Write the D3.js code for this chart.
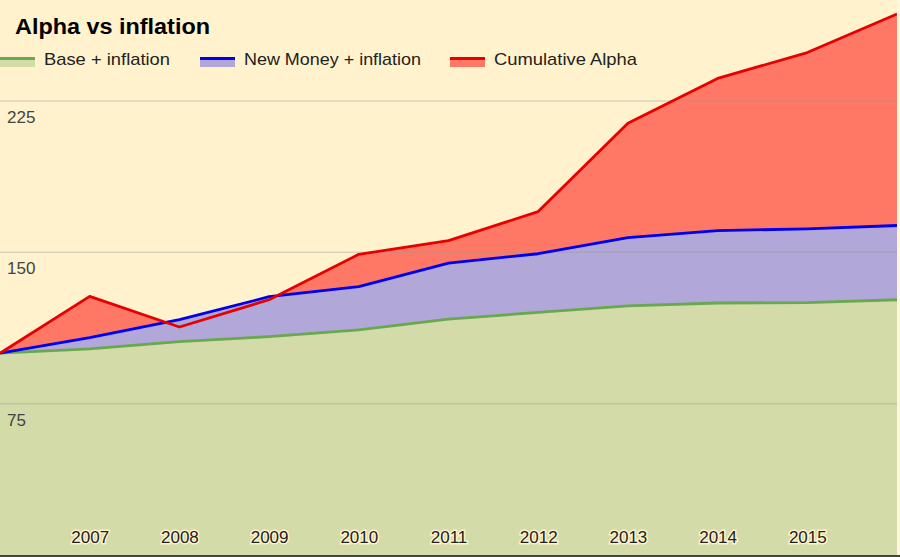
<!DOCTYPE html>
<html>
<head>
<meta charset="utf-8">
<script src="https://cdn.jsdelivr.net/npm/d3@7"></script>
<style>
  body { margin: 0; background: #fff2cc; }
  svg { display: block; font-family: "Liberation Sans", Arial, sans-serif; }
</style>
</head>
<body>
<svg id="chart"></svg>
<script>
// data
const years = [2006, 2007, 2008, 2009, 2010, 2011, 2012, 2013, 2014, 2015, 2016];
const baseInflation = [100, 102.2, 105.7, 108.2, 111.6, 116.9, 120.2, 123.5, 124.9, 125.1, 126.5];
const newMoneyInflation = [100, 107.7, 116.6, 128, 133, 144.7, 149.3, 157.3, 160.8, 161.6, 163.3];
const cumulativeAlpha = [100, 128.2, 113, 126.5, 149, 155.8, 170.2, 214, 236.2, 249, 268.1];
const yTicks = [75, 150, 225];
const xTickYears = [2007, 2008, 2009, 2010, 2011, 2012, 2013, 2014, 2015];

const width = 900, height = 557;
const svg = d3.select("#chart").attr("width", width).attr("height", height);

svg.append("rect").attr("width", width).attr("height", height).attr("fill", "#fff2cc");

const x = d3.scaleLinear().domain([2006, 2016]).range([0, 897]);
const y = d3.scaleLinear().domain([0, 225]).range([555, 101]);

const series = [
  {name: "Cumulative Alpha", values: cumulativeAlpha, fill: "#ff7866", stroke: "#e80000"},
  {name: "New Money + inflation", values: newMoneyInflation, fill: "#b1a7d9", stroke: "#0000ee"},
  {name: "Base + inflation", values: baseInflation, fill: "#d3dca8", stroke: "#6aa84f"}
];

const area = d3.area()
  .x((d, i) => x(years[i]))
  .y0(y(0))
  .y1(d => y(d));
const line = d3.line()
  .x((d, i) => x(years[i]))
  .y(d => y(d));

//Areas, back to front
series.forEach(s => {
  svg.append("path").attr("d", area(s.values)).attr("fill", s.fill);
});

//Gridlines over the fills
svg.append("g")
  .selectAll("line")
  .data(yTicks)
  .join("line")
  .attr("x1", 0).attr("x2", 897)
  .attr("y1", d => y(d)).attr("y2", d => y(d))
  .attr("stroke", "#999")
  .attr("stroke-opacity", 0.35)
  .attr("stroke-width", 1.5);

//Lines, green first so red ends on top
series.slice().reverse().forEach(s => {
  svg.append("path")
    .attr("d", line(s.values))
    .attr("fill", "none")
    .attr("stroke", s.stroke)
    .attr("stroke-width", 2.8)
    .attr("stroke-linejoin", "round");
});

//y labels, under their gridline
svg.append("g")
  .selectAll("text")
  .data(yTicks)
  .join("text")
  .attr("x", 7)
  .attr("y", d => y(d) + 22)
  .attr("fill", "#444")
  .style("font-size", "17px")
  .text(d => d);

//x labels with a halo
const xAxis = d3.axisBottom(x).tickValues(xTickYears).tickFormat(d3.format("d")).tickSize(0);
const gx = svg.append("g").attr("transform", "translate(0,531)").call(xAxis);
gx.select(".domain").remove();
gx.selectAll("text")
  .attr("y", 0)
  .attr("dy", "0.71em")
  .attr("fill", "#222")
  .attr("stroke", "#fff2cc")
  .attr("stroke-width", 3)
  .attr("paint-order", "stroke")
  .style("font-family", "'Liberation Sans', Arial, sans-serif")
  .style("font-size", "17px");

//Bottom baseline and right strip
svg.append("rect").attr("x", 897).attr("y", 0).attr("width", 3).attr("height", 555).attr("fill", "#fff7dd");
svg.append("line")
  .attr("x1", 0).attr("x2", width)
  .attr("y1", 556).attr("y2", 556)
  .attr("stroke", "#444").attr("stroke-width", 2);

//Title
svg.append("text")
  .attr("x", 15)
  .attr("y", 34)
  .attr("fill", "#000")
  .attr("textLength", 195)
  .attr("lengthAdjust", "spacingAndGlyphs")
  .style("font-size", "22px")
  .style("font-weight", "bold")
  .text("Alpha vs inflation");

//Legend
const legendItems = [
  {s: series[2], x: 0, w: 35, textLen: 126},
  {s: series[1], x: 200, w: 35, textLen: 177},
  {s: series[0], x: 450, w: 35, textLen: 143}
];
const lg = svg.append("g");
legendItems.forEach(it => {
  lg.append("rect")
    .attr("x", it.x).attr("y", 59.5)
    .attr("width", it.w).attr("height", 7.5)
    .attr("fill", it.s.fill);
  lg.append("line")
    .attr("x1", it.x).attr("x2", it.x + it.w)
    .attr("y1", 58.5).attr("y2", 58.5)
    .attr("stroke", it.s.stroke)
    .attr("stroke-width", 2.8);
  lg.append("text")
    .attr("x", it.x + it.w + 9)
    .attr("y", 64.5)
    .attr("fill", "#222")
    .attr("textLength", it.textLen)
    .attr("lengthAdjust", "spacingAndGlyphs")
    .style("font-size", "17px")
    .text(it.s.name);
});
</script>
</body>
</html>
